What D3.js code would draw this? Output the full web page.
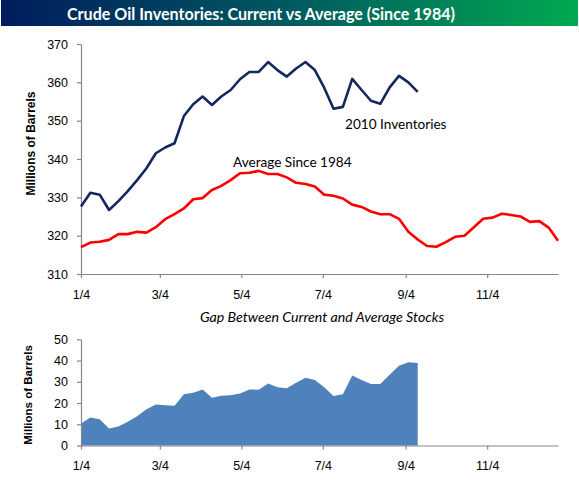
<!DOCTYPE html>
<html><head><meta charset="utf-8">
<script src="https://cdn.jsdelivr.net/npm/d3@7"></script>
<style>
html,body{margin:0;padding:0;background:#fff;}
svg{display:block;}
</style></head>
<body>
<script>
// ---- data ----
const startDate = new Date(2010, 0, 4);
const weeks = d3.range(52).map(i => d3.timeDay.offset(startDate, 7 * i));
const tickDates = [new Date(2010,0,4), new Date(2010,2,4), new Date(2010,4,4), new Date(2010,6,4), new Date(2010,8,4), new Date(2010,10,4)];
const tickLabels = ["1/4", "3/4", "5/4", "7/4", "9/4", "11/4"];
const current2010 = [327.6, 331.2, 330.7, 326.7, 329.0, 331.6, 334.5, 337.6, 341.5, 343.0,
  344.1, 351.2, 354.3, 356.3, 354.1, 356.3, 358.0, 360.8, 362.7, 362.7,
  365.3, 363.2, 361.5, 363.6, 365.3, 363.2, 358.6, 353.1, 353.6, 360.9,
  358.0, 355.2, 354.4, 358.7, 361.7, 360.0, 357.5];
const averageSince1984 = [317.0, 318.2, 318.4, 318.9, 320.4, 320.4, 321.0, 320.8, 322.2, 324.3,
  325.6, 327.1, 329.5, 329.8, 331.9, 333.0, 334.5, 336.3, 336.4, 336.9,
  336.1, 336.1, 335.2, 333.8, 333.5, 332.8, 330.7, 330.4, 329.7, 328.1,
  327.5, 326.3, 325.6, 325.6, 324.4, 321.0, 319.0, 317.3, 317.1, 318.3,
  319.7, 320.0, 322.2, 324.4, 324.7, 325.7, 325.4, 325.0, 323.6, 323.8,
  322.1, 318.7];
const gapStocks = [10.4, 13.2, 12.4, 8.0, 9.0, 11.2, 13.8, 17.1, 19.3, 18.9,
  18.7, 24.1, 24.8, 26.4, 22.5, 23.4, 23.6, 24.5, 26.4, 26.3,
  29.2, 27.4, 26.9, 29.6, 31.9, 30.8, 27.4, 23.3, 24.1, 33.0,
  30.8, 28.9, 28.9, 33.3, 37.6, 39.2, 38.8];
const topTicks = [310, 320, 330, 340, 350, 360, 370];
const bottomTicks = [0, 10, 20, 30, 40, 50];

// ---- layout ----
const W = 579, H = 482;
const svg = d3.select("body").append("svg").attr("width", W).attr("height", H);
const axisColor = "#868686";
const tickFont = "'Liberation Sans', Arial, sans-serif";
const labelFont = "Lato, 'Open Sans', sans-serif";

// title bar
const defs = svg.append("defs");
const grad = defs.append("linearGradient").attr("id", "tg").attr("x1", "0%").attr("x2", "100%");
grad.append("stop").attr("offset", "0%").attr("stop-color", "#001c5e");
grad.append("stop").attr("offset", "50%").attr("stop-color", "#005a60");
grad.append("stop").attr("offset", "100%").attr("stop-color", "#00aa50");
svg.append("rect").attr("x", 1).attr("y", 0).attr("width", 577).attr("height", 26).attr("fill", "url(#tg)");
svg.append("text").attr("x", 261).attr("y", 19.5).attr("text-anchor", "middle")
  .attr("font-family", labelFont).attr("font-weight", "bold").attr("font-size", 17)
  .attr("fill", "#fff").attr("textLength", 388).attr("lengthAdjust", "spacingAndGlyphs")
  .text("Crude Oil Inventories: Current vs Average (Since 1984)");

// x scale shared
const x = d3.scaleTime().domain([weeks[0], weeks[51]]).range([81, 558]);

function styleAxis(g) {
  g.selectAll("path.domain").attr("stroke", axisColor).attr("stroke-width", 1.2);
  g.selectAll(".tick line").attr("stroke", axisColor).attr("stroke-width", 1.2);
  g.selectAll(".tick text").attr("fill", "#000").attr("font-family", tickFont).attr("font-size", 12.5);
}

// ---- top chart ----
const yTop = d3.scaleLinear().domain([310, 370]).range([274, 44]);
const gyTop = svg.append("g").attr("transform", "translate(81,0)")
  .call(d3.axisLeft(yTop).tickValues(topTicks).tickSize(4).tickSizeOuter(0).tickPadding(9));
styleAxis(gyTop);
const gxTop = svg.append("g").attr("transform", "translate(0,274)")
  .call(d3.axisBottom(x).tickValues(tickDates).tickFormat((d, i) => tickLabels[i]).tickSize(4).tickSizeOuter(0).tickPadding(12));
styleAxis(gxTop);

svg.append("text").attr("transform", "translate(35,143.5) rotate(-90)").attr("text-anchor", "middle")
  .attr("font-family", tickFont).attr("font-weight", "bold").attr("font-size", 12)
  .text("Millions of Barrels");

const lineTop = d3.line().x((d, i) => x(weeks[i])).y(d => yTop(d));
svg.append("path").datum(averageSince1984).attr("d", lineTop)
  .attr("fill", "none").attr("stroke", "#ff0000").attr("stroke-width", 2.6).attr("stroke-linejoin", "round");
svg.append("path").datum(current2010).attr("d", lineTop)
  .attr("fill", "none").attr("stroke", "#14285e").attr("stroke-width", 2.6).attr("stroke-linejoin", "round");

svg.append("text").attr("x", 345).attr("y", 129).attr("font-family", labelFont).attr("font-size", 13.6)
  .attr("fill", "#000").text("2010 Inventories");
svg.append("text").attr("x", 233).attr("y", 167).attr("font-family", labelFont).attr("font-size", 13.6)
  .attr("fill", "#000").text("Average Since 1984");

// ---- bottom chart ----
svg.append("text").attr("x", 322).attr("y", 321.5).attr("text-anchor", "middle")
  .attr("font-family", labelFont).attr("font-style", "italic").attr("font-size", 14.2)
  .text("Gap Between Current and Average Stocks");

const yBot = d3.scaleLinear().domain([0, 50]).range([445.5, 339.3]);
const area = d3.area().x((d, i) => x(weeks[i])).y0(yBot(0)).y1(d => yBot(d));
svg.append("path").datum(gapStocks).attr("d", area).attr("fill", "#4f81bd");

const gyBot = svg.append("g").attr("transform", "translate(81,0)")
  .call(d3.axisLeft(yBot).tickValues(bottomTicks).tickSize(4).tickSizeOuter(0).tickPadding(9));
styleAxis(gyBot);
const gxBot = svg.append("g").attr("transform", "translate(0,445.5)")
  .call(d3.axisBottom(x).tickValues(tickDates).tickFormat((d, i) => tickLabels[i]).tickSize(4).tickSizeOuter(0).tickPadding(12));
styleAxis(gxBot);

svg.append("text").attr("transform", "translate(32,395) rotate(-90)").attr("text-anchor", "middle")
  .attr("font-family", tickFont).attr("font-weight", "bold").attr("font-size", 11.5)
  .text("Millions of Barrels");
</script>
</body></html>
